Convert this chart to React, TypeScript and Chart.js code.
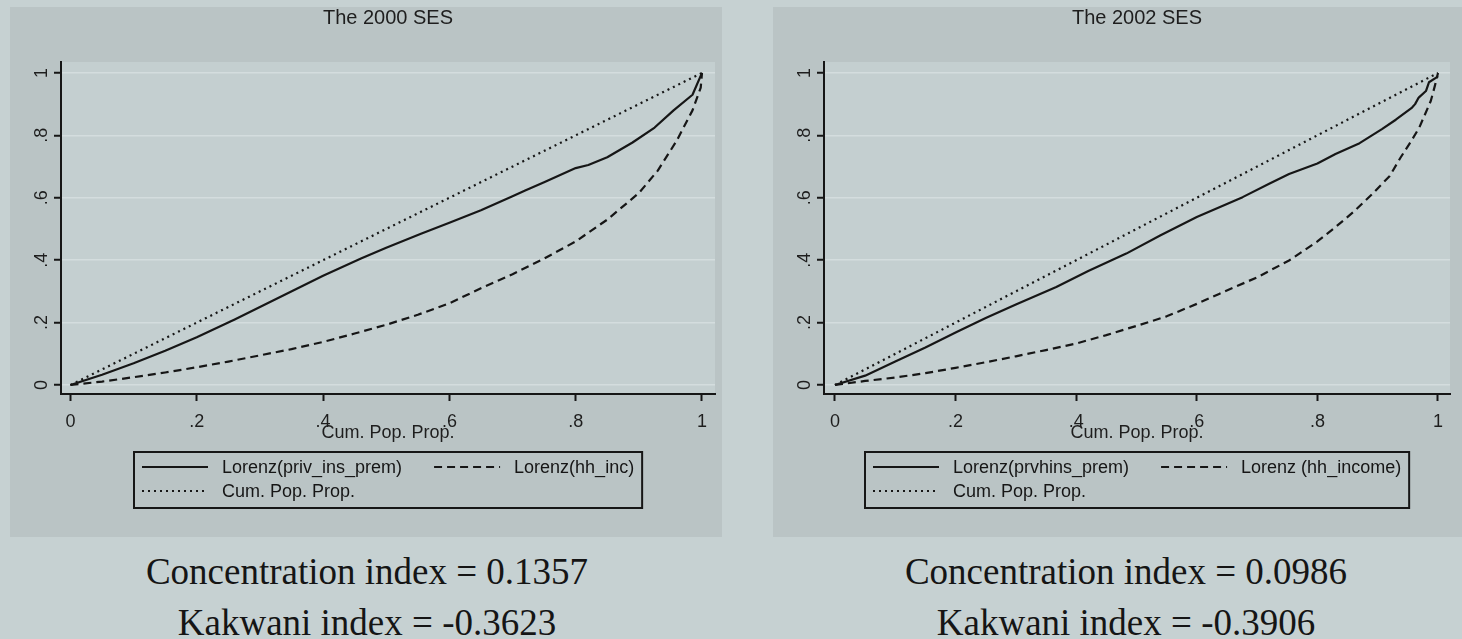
import React, { useEffect, useRef } from 'react';
import { Chart, registerables } from 'chart.js';

Chart.register(...registerables);

// ---------------- data ----------------
const xTickValues = [0, 0.2, 0.4, 0.6, 0.8, 1];
const xTickLabels = ['0', '.2', '.4', '.6', '.8', '1'];
const yTickValues = [0, 0.2, 0.4, 0.6, 0.8, 1];
const yTickLabels = ['0', '.2', '.4', '.6', '.8', '1'];

const panelTitles = ['The 2000 SES', 'The 2002 SES'];
const xAxisTitle = 'Cum. Pop. Prop.';

const labels2000 = ['Lorenz(priv_ins_prem)', 'Lorenz(hh_inc)', 'Cum. Pop. Prop.'];
const labels2002 = ['Lorenz(prvhins_prem)', 'Lorenz (hh_income)', 'Cum. Pop. Prop.'];

const prem2000X = [0, 0.05, 0.1, 0.15, 0.2, 0.26, 0.3, 0.36, 0.4, 0.46, 0.5, 0.555, 0.6, 0.65, 0.7, 0.72, 0.75, 0.8, 0.82, 0.85, 0.89, 0.925, 0.955, 0.985, 1];
const prem2000Y = [0, 0.033, 0.07, 0.11, 0.153, 0.21, 0.25, 0.31, 0.35, 0.405, 0.44, 0.485, 0.52, 0.56, 0.605, 0.623, 0.65, 0.695, 0.705, 0.73, 0.777, 0.825, 0.88, 0.93, 1];
const inc2000X = [0, 0.05, 0.1, 0.15, 0.2, 0.25, 0.3, 0.35, 0.4, 0.45, 0.5, 0.55, 0.6, 0.65, 0.7, 0.75, 0.8, 0.85, 0.9, 0.93, 0.96, 0.985, 0.998, 1];
const inc2000Y = [0, 0.011, 0.025, 0.04, 0.057, 0.075, 0.095, 0.115, 0.138, 0.165, 0.193, 0.225, 0.262, 0.31, 0.355, 0.405, 0.46, 0.53, 0.615, 0.687, 0.783, 0.88, 0.953, 1];
const cum2000X = [0, 1];
const cum2000Y = [0, 1];

const prem2002X = [0, 0.05, 0.1, 0.15, 0.2, 0.25, 0.3, 0.367, 0.42, 0.483, 0.54, 0.6, 0.676, 0.72, 0.753, 0.8, 0.83, 0.87, 0.907, 0.93, 0.957, 0.962, 0.968, 0.98, 0.985, 0.997, 1];
const prem2002Y = [0, 0.03, 0.075, 0.12, 0.168, 0.215, 0.258, 0.314, 0.365, 0.421, 0.48, 0.538, 0.602, 0.645, 0.676, 0.71, 0.74, 0.775, 0.82, 0.85, 0.889, 0.9, 0.921, 0.942, 0.97, 0.985, 0.99];
const inc2002X = [0, 0.05, 0.1, 0.15, 0.2, 0.25, 0.3, 0.35, 0.4, 0.45, 0.506, 0.55, 0.6, 0.637, 0.7, 0.753, 0.8, 0.83, 0.86, 0.891, 0.92, 0.938, 0.955, 0.969, 0.988, 0.995, 1];
const inc2002Y = [0, 0.013, 0.024, 0.038, 0.055, 0.073, 0.092, 0.112, 0.133, 0.16, 0.193, 0.22, 0.26, 0.292, 0.345, 0.399, 0.46, 0.506, 0.555, 0.612, 0.67, 0.729, 0.78, 0.825, 0.91, 0.96, 1];
const cum2002X = [0, 1];
const cum2002Y = [0, 1];

const concentrationValues = ['0.1357', '0.0986'];
const kakwaniValues = ['-0.3623', '-0.3906'];

// ---------------- styles ----------------
const PAGE_BG = '#c6d1d2';
const PANEL_BG = '#bac4c5';
const PLOT_BG = '#c4cfd0';
const GRID = 'rgba(214,222,223,0.9)';
const INK = '#161616';
const SANS = "'Liberation Sans', Arial, sans-serif";
const SERIF = "'Liberation Serif', 'Times New Roman', serif";

const toPoints = (xs: number[], ys: number[]) => xs.map((x, i) => ({ x, y: ys[i] }));

const plotBgPlugin = {
  id: 'plotBg',
  beforeDraw(chart: any) {
    const { ctx, chartArea } = chart;
    ctx.save();
    ctx.fillStyle = PLOT_BG;
    ctx.fillRect(chartArea.left, chartArea.top, chartArea.right - chartArea.left, chartArea.bottom - chartArea.top);
    ctx.restore();
  },
};

const stataLegendPlugin = {
  id: 'stataLegend',
  afterDraw(chart: any, _args: any, opts: any) {
    const { ctx, chartArea } = chart;
    const ds = chart.data.datasets;
    ctx.save();
    ctx.font = opts.font;
    const w0 = ctx.measureText(ds[0].label).width;
    const w1 = ctx.measureText(ds[1].label).width;
    const w2 = ctx.measureText(ds[2].label).width;
    const col1 = opts.sample + opts.gap + Math.max(w0, w2);
    const col2 = opts.sample + opts.gap + w1;
    const boxW = opts.padL + col1 + opts.colGap + col2 + opts.padR;
    const cx = (chartArea.left + chartArea.right) / 2;
    const bx = Math.round(cx - boxW / 2);
    const by = opts.top;
    ctx.lineWidth = 2;
    ctx.strokeStyle = INK;
    ctx.setLineDash([]);
    ctx.strokeRect(bx, by, boxW, opts.height);
    const items = [
      { d: ds[0], x: bx + opts.padL, y: by + opts.row1 },
      { d: ds[1], x: bx + opts.padL + col1 + opts.colGap, y: by + opts.row1 },
      { d: ds[2], x: bx + opts.padL, y: by + opts.row2 },
    ];
    ctx.textBaseline = 'middle';
    ctx.textAlign = 'left';
    ctx.fillStyle = INK;
    for (const it of items) {
      ctx.save();
      ctx.lineWidth = 2;
      ctx.setLineDash(it.d.borderDash || []);
      ctx.beginPath();
      ctx.moveTo(it.x, it.y);
      ctx.lineTo(it.x + opts.sample, it.y);
      ctx.stroke();
      ctx.restore();
      ctx.fillText(it.d.label, it.x + opts.sample + opts.gap, it.y + 1);
    }
    ctx.restore();
  },
};

function makeConfig(
  title: string,
  labels: string[],
  series: { x: number[]; y: number[] }[],
  xMin: number,
  xMax: number,
  rightPad: number,
) {
  const dashes = [[], [8, 5], [2, 4]];
  return {
    type: 'line',
    data: {
      datasets: series.map((s, i) => ({
        label: labels[i],
        data: toPoints(s.x, s.y),
        borderColor: INK,
        borderWidth: 2.2,
        borderDash: dashes[i],
        pointRadius: 0,
        tension: 0,
        fill: false,
        borderJoinStyle: 'round',
      })),
    },
    options: {
      animation: false,
      responsive: false,
      maintainAspectRatio: false,
      events: [],
      layout: { padding: { left: 0, right: rightPad, top: 0, bottom: 93 } },
      plugins: {
        legend: { display: false },
        tooltip: { enabled: false },
        title: {
          display: true,
          text: title,
          fullSize: false,
          color: '#1e1e1e',
          font: { family: SANS, size: 20, weight: 'normal', lineHeight: 1 },
          padding: { top: 1, bottom: 34 },
        },
        stataLegend: {
          font: `18px ${SANS}`,
          top: 445,
          height: 56,
          row1: 15,
          row2: 39,
          sample: 66,
          gap: 14,
          colGap: 32,
          padL: 8,
          padR: 8,
        },
      },
      scales: {
        x: {
          type: 'linear',
          min: xMin,
          max: xMax,
          afterBuildTicks: (axis: any) => {
            axis.ticks = xTickValues.map((v) => ({ value: v }));
          },
          afterFit: (axis: any) => {
            axis.height = 50;
          },
          ticks: {
            autoSkip: false,
            maxRotation: 0,
            minRotation: 0,
            padding: 10,
            color: '#1e1e1e',
            font: { family: SANS, size: 18 },
            callback: (v: number) => {
              const i = xTickValues.findIndex((t) => Math.abs(t - v) < 1e-9);
              return i >= 0 ? xTickLabels[i] : '';
            },
          },
          grid: { display: true, drawOnChartArea: false, drawTicks: true, tickLength: 7, tickColor: INK, tickWidth: 2 },
          border: { display: true, color: INK, width: 2 },
          title: {
            display: true,
            text: xAxisTitle,
            color: '#1e1e1e',
            font: { family: SANS, size: 18 },
            padding: { top: 0, bottom: 0 },
          },
        },
        y: {
          type: 'linear',
          min: -0.0288,
          max: 1.035,
          afterBuildTicks: (axis: any) => {
            axis.ticks = yTickValues.map((v) => ({ value: v }));
          },
          afterFit: (axis: any) => {
            axis.width = 51;
          },
          ticks: {
            autoSkip: false,
            minRotation: 90,
            maxRotation: 90,
            crossAlign: 'center',
            padding: 4,
            color: '#1e1e1e',
            font: { family: SANS, size: 18 },
            callback: (v: number) => {
              const i = yTickValues.findIndex((t) => Math.abs(t - v) < 1e-9);
              return i >= 0 ? yTickLabels[i] : '';
            },
          },
          grid: { display: true, drawOnChartArea: true, color: GRID, lineWidth: 1.5, drawTicks: true, tickLength: 7, tickColor: INK, tickWidth: 2 },
          border: { display: true, color: INK, width: 2 },
        },
      },
    },
    plugins: [plotBgPlugin, stataLegendPlugin],
  };
}

export default function App() {
  const leftRef = useRef<HTMLCanvasElement | null>(null);
  const rightRef = useRef<HTMLCanvasElement | null>(null);

  useEffect(() => {
    const c1 = new Chart(
      leftRef.current as HTMLCanvasElement,
      makeConfig(
        panelTitles[0],
        labels2000,
        [
          { x: prem2000X, y: prem2000Y },
          { x: inc2000X, y: inc2000Y },
          { x: cum2000X, y: cum2000Y },
        ],
        -0.015,
        1.0206,
        7,
      ) as any,
    );
    const c2 = new Chart(
      rightRef.current as HTMLCanvasElement,
      makeConfig(
        panelTitles[1],
        labels2002,
        [
          { x: prem2002X, y: prem2002Y },
          { x: inc2002X, y: inc2002Y },
          { x: cum2002X, y: cum2002Y },
        ],
        -0.0182,
        1.0199,
        12,
      ) as any,
    );
    return () => {
      c1.destroy();
      c2.destroy();
    };
  }, []);

  const textStyle = (left: number, width: number, top: number): React.CSSProperties => ({
    position: 'absolute',
    left,
    width,
    top,
    textAlign: 'center',
    fontFamily: SERIF,
    fontSize: 37,
    lineHeight: '37px',
    color: '#151515',
    whiteSpace: 'nowrap',
  });

  return (
    <div style={{ position: 'absolute', left: 0, top: 0, width: 1462, height: 639, background: PAGE_BG, overflow: 'hidden' }}>
      <canvas
        ref={leftRef}
        width={712}
        height={530}
        style={{ position: 'absolute', left: 10, top: 7, width: 712, height: 530, background: PANEL_BG }}
      />
      <canvas
        ref={rightRef}
        width={689}
        height={530}
        style={{ position: 'absolute', left: 773, top: 7, width: 689, height: 530, background: PANEL_BG }}
      />
      <div style={textStyle(0, 734, 553)}>Concentration index = {concentrationValues[0]}</div>
      <div style={textStyle(0, 734, 604)}>Kakwani index = {kakwaniValues[0]}</div>
      <div style={textStyle(758, 736, 553)}>Concentration index = {concentrationValues[1]}</div>
      <div style={textStyle(758, 736, 604)}>Kakwani index = {kakwaniValues[1]}</div>
    </div>
  );
}
